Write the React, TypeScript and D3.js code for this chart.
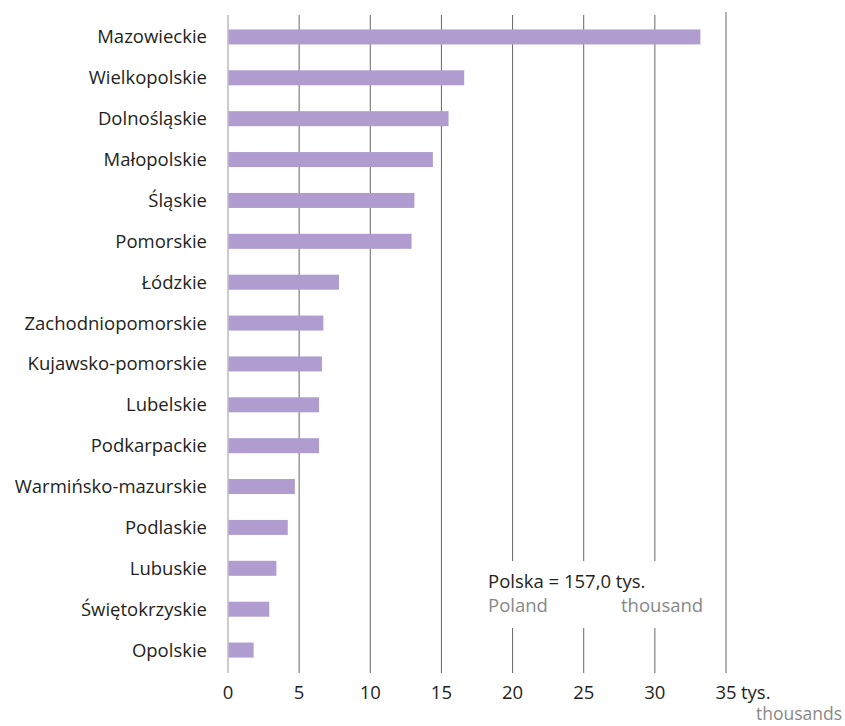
import React from "react";
import * as d3 from "d3";

const regions = [
  "Mazowieckie", "Wielkopolskie", "Dolnośląskie", "Małopolskie", "Śląskie", "Pomorskie",
  "Łódzkie", "Zachodniopomorskie", "Kujawsko-pomorskie", "Lubelskie", "Podkarpackie",
  "Warmińsko-mazurskie", "Podlaskie", "Lubuskie", "Świętokrzyskie", "Opolskie",
];
const values = [33.2, 16.6, 15.5, 14.4, 13.1, 12.9, 7.8, 6.7, 6.6, 6.4, 6.4, 4.7, 4.2, 3.4, 2.9, 1.8];
const ticks = [0, 5, 10, 15, 20, 25, 30, 35];

const FONT = "'Open Sans', 'Noto Sans', sans-serif";
const FS = 18.5;

export default function App() {
  const x = d3.scaleLinear().domain([0, 35]).range([228, 726]);
  const y = d3.scaleBand<string>().domain(regions).range([16.5, 670.5]).paddingInner(0.633).paddingOuter(0.3165);
  const bw = y.bandwidth();
  return (
    <svg width={845} height={726} style={{ position: "absolute", left: 0, top: 0, background: "#fff" }}>
      {ticks.map((t) => (
        <line key={t} x1={x(t)} x2={x(t)} y1={t === 35 ? 12 : 15} y2={673}
          stroke={t === 0 ? "#999" : "#666"} strokeWidth={1} />
      ))}
      <rect x={478} y={561} width={237} height={67} fill="#fff" />
      {regions.map((r, i) => (
        <g key={r}>
          <rect x={x(0) + 0.5} y={y(r)} width={x(values[i]) - x(0) - 0.5} height={bw} fill="#b09ccf" />
          <text x={207} y={(y(r) as number) + bw / 2} dy="0.35em" textAnchor="end"
            fontFamily={FONT} fontSize={FS} fill="#231f20">{r}</text>
        </g>
      ))}
      {ticks.map((t) => (
        <text key={"l" + t} x={x(t)} y={699} textAnchor="middle" fontFamily={FONT} fontSize={FS} fill="#231f20">{t}</text>
      ))}
      <text x={x(35) + 15} y={699} fontFamily={FONT} fontSize={FS} fill="#231f20">tys.</text>
      <text x={842} y={720} textAnchor="end" fontFamily={FONT} fontSize={17.5} fill="#888">thousands</text>
      <text x={488} y={588} fontFamily={FONT} fontSize={FS} fill="#231f20">Polska = 157,0 tys.</text>
      <text x={488} y={612} fontFamily={FONT} fontSize={FS} fill="#888">Poland</text>
      <text x={621} y={612} fontFamily={FONT} fontSize={FS} fill="#888">thousand</text>
    </svg>
  );
}
